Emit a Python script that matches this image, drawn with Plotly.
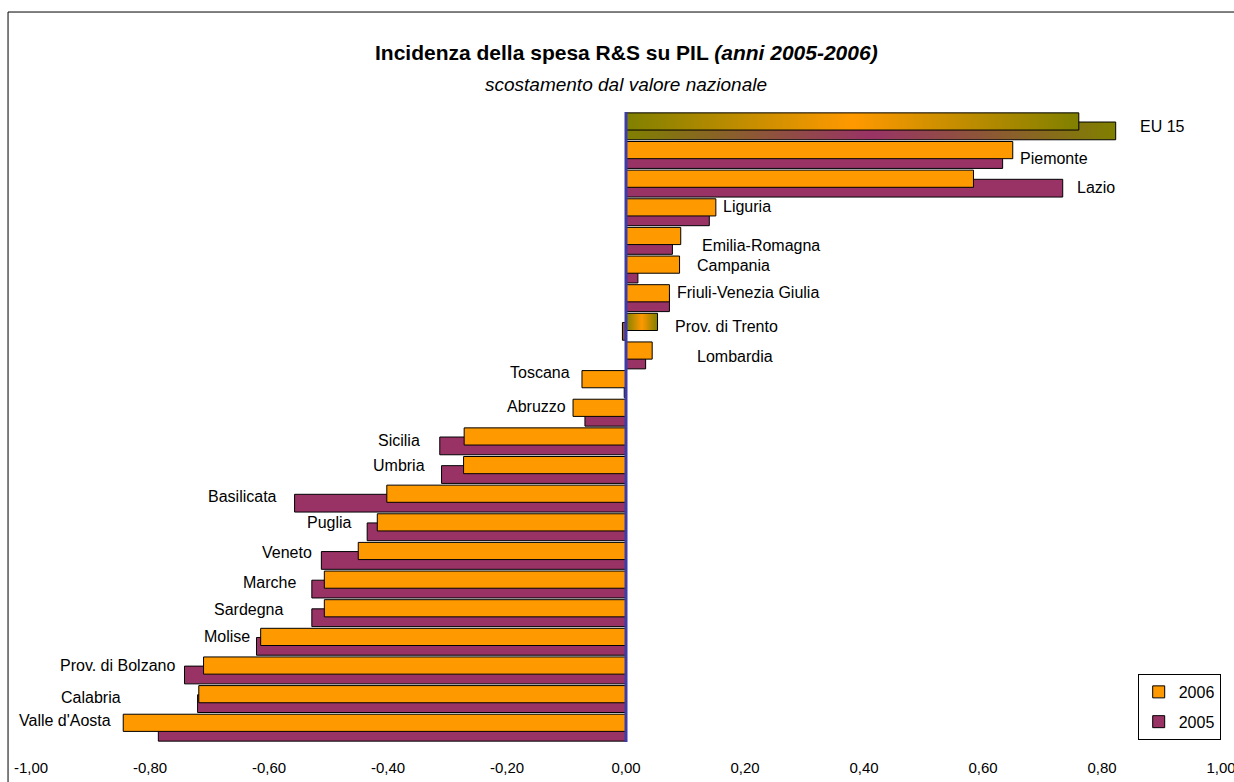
import plotly.graph_objects as go

# Scostamento dell'incidenza R&S/PIL dal valore nazionale, per regione
regioni = [
    "EU 15", "Piemonte", "Lazio", "Liguria", "Emilia-Romagna", "Campania",
    "Friuli-Venezia Giulia", "Prov. di Trento", "Lombardia", "Toscana", "Abruzzo",
    "Sicilia", "Umbria", "Basilicata", "Puglia", "Veneto", "Marche", "Sardegna",
    "Molise", "Prov. di Bolzano", "Calabria", "Valle d'Aosta",
]
val_2006 = [
    0.761, 0.650, 0.584, 0.151, 0.092, 0.090, 0.073, 0.053, 0.044, -0.074, -0.089,
    -0.272, -0.273, -0.402, -0.418, -0.450, -0.507, -0.507, -0.614, -0.710, -0.718, -0.845,
]
val_2005 = [
    0.823, 0.633, 0.734, 0.140, 0.078, 0.020, 0.073, -0.006, 0.033, -0.003, -0.069,
    -0.313, -0.310, -0.557, -0.435, -0.512, -0.528, -0.528, -0.621, -0.742, -0.720, -0.786,
]
# barre con riempimento sfumato
sfumati = ["EU 15", "Prov. di Trento"]

tick_vals = [-1.0, -0.8, -0.6, -0.4, -0.2, 0.0, 0.2, 0.4, 0.6, 0.8, 1.0]
tick_text = ["-1,00", "-0,80", "-0,60", "-0,40", "-0,20", "0,00",
             "0,20", "0,40", "0,60", "0,80", "1,00"]

# posizione delle etichette di regione (x sull'asse dei valori, spostamento verticale)
etich_x = [0.861, 0.659, 0.755, 0.160, 0.124, 0.116, 0.082, 0.079, 0.116, -0.091, -0.098,
           -0.343, -0.334, -0.584, -0.457, -0.524, -0.551, -0.573, -0.628, -0.755, -0.846, -0.862]
etich_dy = [0.02, 0.13, 0.15, -0.19, 0.17, -0.13, -0.19, 0.0, 0.04, -0.40, -0.22,
            -0.03, -0.16, -0.08, -0.17, -0.12, -0.08, -0.14, -0.19, -0.18, -0.07, -0.26]

ARANCIO = "#FF9900"
VIOLA = "#993366"
OLIVA = "#808000"
FONT = "Liberation Sans, Arial, sans-serif"

pos = list(range(len(regioni)))


def pieni(vals):
    return [None if r in sfumati else v for r, v in zip(regioni, vals)]


# (anno, valori, colore, offset, spessore, ordine in legenda)
serie = [
    ("2005", val_2005, VIOLA, -0.15, 0.62, 2),
    ("2006", val_2006, ARANCIO, -0.47, 0.60, 1),
]

fig = go.Figure()

for nome, vals, colore, off, w, rank in serie:
    fig.add_trace(go.Bar(
        y=pos, x=pieni(vals), orientation="h", name=nome, legendgroup=nome,
        legendrank=rank, width=w, offset=off,
        marker=dict(color=colore, line=dict(color="#000000", width=1)),
        hoverinfo="x+name",
    ))

for nome, vals, colore, off, w, rank in serie:
    for r in sfumati:
        i = regioni.index(r)
        v = vals[i]
        y0, y1 = i + off, i + off + w
        fig.add_trace(go.Scatter(
            x=[0, v, v, 0, 0], y=[y0, y0, y1, y1, y0],
            mode="lines", fill="toself",
            fillgradient=dict(type="horizontal",
                              colorscale=[[0, OLIVA], [0.5, colore], [1, OLIVA]]),
            line=dict(color="#000000", width=1),
            showlegend=False, hoverinfo="skip",
        ))

annotazioni = []
for r, vx, dy in zip(regioni, etich_x, etich_dy):
    i = regioni.index(r)
    annotazioni.append(dict(
        x=vx, y=i + dy, xref="x", yref="y", text=r, showarrow=False,
        xanchor="left" if vx > 0 else "right", yanchor="middle",
        font=dict(size=16, color="#000000", family=FONT),
    ))

annotazioni.append(dict(
    x=0.5, y=1.0952, xref="paper", yref="paper", showarrow=False,
    text="<b>Incidenza della spesa R&amp;S su PIL <i>(anni 2005-2006)</i></b>",
    xanchor="center", yanchor="middle",
    font=dict(size=21, color="#000000", family=FONT),
))
annotazioni.append(dict(
    x=0.5, y=1.0429, xref="paper", yref="paper", showarrow=False,
    text="<i>scostamento dal valore nazionale</i>",
    xanchor="center", yanchor="middle",
    font=dict(size=19, color="#000000", family=FONT),
))

fig.update_layout(
    width=1234, height=782,
    margin=dict(l=31, r=13, t=112, b=40, autoexpand=False),
    paper_bgcolor="#FFFFFF", plot_bgcolor="#FFFFFF",
    barmode="overlay",
    font=dict(family=FONT, color="#000000"),
    showlegend=True,
    legend=dict(
        x=0.930, y=0.108, xanchor="left", yanchor="top",
        traceorder="grouped", tracegroupgap=6,
        bordercolor="#000000", borderwidth=1, bgcolor="#FFFFFF",
        font=dict(size=16, family=FONT, color="#000000"),
    ),
    xaxis=dict(
        range=[-1, 1], tickvals=tick_vals, ticktext=tick_text,
        showgrid=False, zeroline=False, showline=False, ticks="",
        tickfont=dict(size=15, family=FONT, color="#000000"),
        ticklabelstandoff=15, ticklabeloverflow="allow", automargin=False,
    ),
    yaxis=dict(range=[len(regioni) - 0.5, -0.5], visible=False, automargin=False),
    annotations=annotazioni,
    shapes=[
        # cornice dell'area del grafico
        dict(type="rect", xref="paper", yref="paper",
             x0=-0.0193, x1=1.05, y0=-0.2, y1=1.1587,
             line=dict(color="#000000", width=1), layer="below"),
        # linea dello zero
        dict(type="line", xref="x", yref="paper", x0=0, x1=0, y0=0, y1=1,
             line=dict(color="#3C3CA8", width=3), layer="above"),
    ],
)

fig.write_html("out.html")
